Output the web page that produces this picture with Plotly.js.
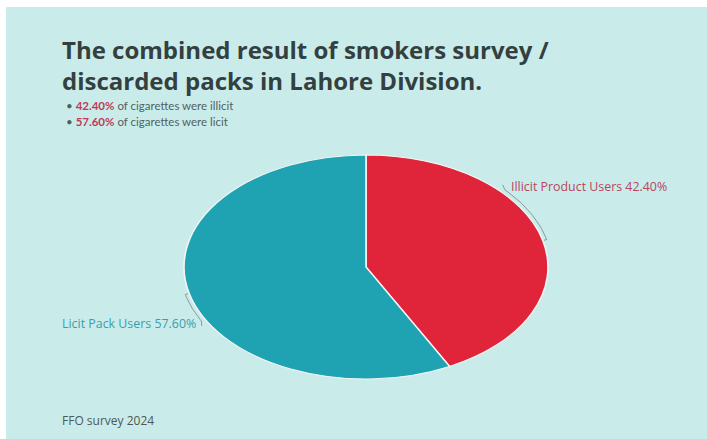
<!DOCTYPE html>
<html>
<head>
<meta charset="utf-8">
<script src="https://cdn.plot.ly/plotly-3.0.1.min.js"></script>
<style>
  html, body { margin: 0; padding: 0; background: #ffffff; }
  #chart { width: 707px; height: 439px; }
</style>
</head>
<body>
<div id="chart"></div>
<script>
// ---- data ----
const categories = ["Illicit Product Users", "Licit Pack Users"];
const values = [42.40, 57.60];
const bulletWords = ["illicit", "licit"];
const titleText = "The combined result of smokers survey /<br>discarded packs in Lahore Division.";
const sourceText = "FFO survey 2024";

// ---- styles ----
const W = 707, H = 439;
const bg = "#c9ecea";
const sliceColors = ["#e0243a", "#1fa3b2"];
const labelColors = ["#b8455e", "#3a9eac"];
const pctColor = "#c0395a";
const center = [366, 267];       // pixel centre of pie
const radii = [182, 112];        // ellipse radii (x, y) in px
const connectorSpan = [28, 14];  // degrees of curved connector before slice midpoint

const total = values.reduce((a, b) => a + b, 0);
const fmt = v => v.toFixed(2) + "%";

const r = radii[1];
const pie = {
  type: "pie",
  labels: categories,
  values: values,
  sort: false,
  direction: "clockwise",
  rotation: 0,
  textinfo: "none",
  hoverinfo: "label+percent",
  marker: { colors: sliceColors, line: { color: "#f4f4f4", width: 1 } },
  domain: {
    x: [(center[0] - r) / W, (center[0] + r) / W],
    y: [(H - center[1] - r) / H, (H - center[1] + r) / H]
  },
  showlegend: false
};

const connTraces = [];
const annLabels = [];
let cum = 0;
values.forEach((v, i) => {
  const mid = (cum + v / 2) / total * 360;
  cum += v;
  const start = mid - connectorSpan[i];
  const pts = { x: [], y: [] };
  const pt = (deg, off) => {
    const a = deg * Math.PI / 180;
    return [center[0] + (radii[0] + off) * Math.sin(a), center[1] - (radii[1] + off) * Math.cos(a)];
  };
  const steps = 20;
  const hookA = pt(start - 2, 7);
  pts.x.push(hookA[0]); pts.y.push(hookA[1]);
  for (let k = 0; k <= steps; k++) {
    const p = pt(start + (mid - start) * k / steps, 4);
    pts.x.push(p[0]); pts.y.push(p[1]);
  }
  const hookB = pt(mid, 1);
  pts.x.push(hookB[0]); pts.y.push(hookB[1]);
  connTraces.push({
    type: "scatter", mode: "lines", x: pts.x, y: pts.y,
    line: { color: "#8a9a9a", width: 1 }, hoverinfo: "skip", showlegend: false
  });
  const right = Math.sin(mid * Math.PI / 180) > 0;
  annLabels.push({
    xref: "x", yref: "y", x: hookA[0] + (right ? 6 : -4), y: hookA[1] + (right ? 2 : -2),
    xanchor: right ? "left" : "right", yanchor: "middle",
    text: categories[i] + " " + fmt(v), showarrow: false,
    font: { family: "'Open Sans', sans-serif", size: 12.4, color: labelColors[i] }
  });
});

const bullets = values.map((v, i) => ({
  xref: "paper", yref: "paper", x: 64 / W, y: 1 - (106 + 16 * i) / H,
  xanchor: "left", yanchor: "middle", showarrow: false,
  text: "• <b><span style='color:" + pctColor + "'>" + fmt(v) + "</span></b> of cigarettes were " + bulletWords[i],
  font: { family: "Lato, sans-serif", size: 11.5, color: "#555e5e" }
}));

const layout = {
  width: W, height: H,
  margin: { l: 0, r: 0, t: 0, b: 0 },
  paper_bgcolor: "#ffffff",
  plot_bgcolor: "rgba(0,0,0,0)",
  title: {
    text: titleText,
    x: 62 / W, xanchor: "left", xref: "paper",
    y: 1 - 59 / H, yanchor: "top", yref: "container",
    font: { family: "'Open Sans', sans-serif", size: 24, weight: 700, color: "#343f3f" }
  },
  xaxis: { range: [0, W], domain: [0, 1], visible: false, fixedrange: true },
  yaxis: { range: [H, 0], domain: [0, 1], visible: false, fixedrange: true },
  shapes: [{
    type: "rect", xref: "paper", yref: "paper", layer: "below",
    x0: 6 / W, x1: 1, y0: 0, y1: 1 - 7 / H,
    fillcolor: bg, line: { width: 0 }
  }],
  annotations: bullets.concat(annLabels, [{
    xref: "paper", yref: "paper", x: 60 / W, y: 1 - 420 / H,
    xanchor: "left", yanchor: "middle", showarrow: false, text: sourceText,
    font: { family: "'Open Sans', sans-serif", size: 12, color: "#4f5757" }
  }])
};

Plotly.newPlot("chart", [pie].concat(connTraces), layout, { displayModeBar: false, staticPlot: true }).then(() => {
  const g = document.querySelector("#chart .pielayer");
  if (g) {
    const sx = radii[0] / radii[1];
    g.setAttribute("transform",
      "translate(" + center[0] + "," + center[1] + ") scale(" + sx + ",1) translate(" + (-center[0]) + "," + (-center[1]) + ")");
  }
});
</script>
</body>
</html>
